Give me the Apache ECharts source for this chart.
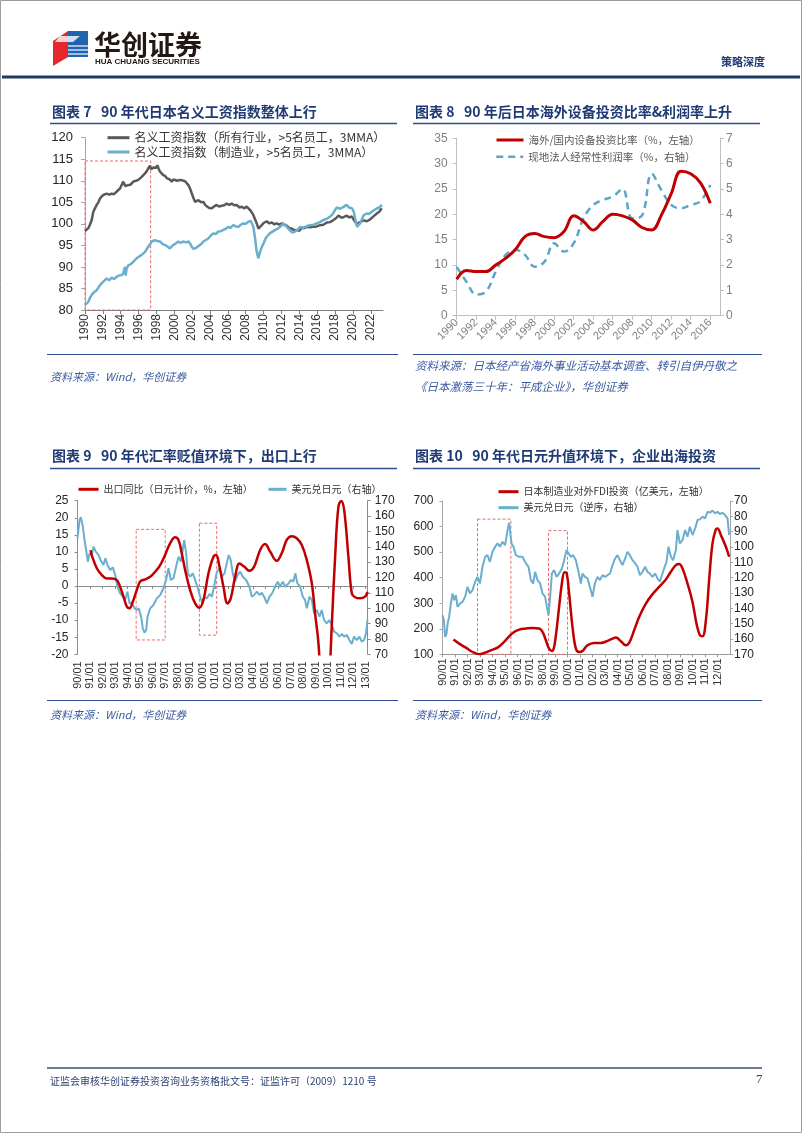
<!DOCTYPE html>
<html><head><meta charset="utf-8">
<script src="https://cdn.jsdelivr.net/npm/echarts@6/dist/echarts.min.js"></script>
<style>html,body{margin:0;padding:0;background:#fff}#c{width:802px;height:1133px}</style>
</head><body><div id="c"></div>
<script>
// ---------- Chart 7: nominal wage index (year, value) ----------
const wageAll = [[1990.0,98.3],[1990.2,98.6],[1990.37,99.0],[1990.55,99.8],[1990.75,100.9],[1990.93,102.8],[1991.1,103.2],[1991.31,104.4],[1991.5,105.0],[1991.68,105.9],[1991.85,106.3],[1992.05,106.7],[1992.25,106.4],[1992.43,107.0],[1992.7,106.8],[1992.99,107.0],[1993.25,106.9],[1993.55,107.5],[1993.75,107.9],[1993.92,108.2],[1994.1,108.4],[1994.29,109.8],[1994.4,110.2],[1994.5,108.8],[1994.6,108.6],[1994.85,109.0],[1995.1,109.1],[1995.41,109.8],[1995.7,110.0],[1995.97,110.2],[1996.15,110.4],[1996.35,110.9],[1996.55,111.2],[1996.72,111.7],[1996.9,112.2],[1997.09,112.9],[1997.28,113.5],[1997.4,112.7],[1997.5,112.5],[1997.7,113.1],[1997.84,113.3],[1998.0,113.0],[1998.1,113.6],[1998.25,112.8],[1998.4,112.1],[1998.6,111.8],[1998.77,111.3],[1999.0,111.1],[1999.15,110.6],[1999.33,110.5],[1999.5,110.3],[1999.71,109.8],[1999.9,110.3],[2000.08,110.5],[2000.35,110.0],[2000.64,110.2],[2000.9,110.1],[2001.2,109.9],[2001.4,109.6],[2001.58,109.0],[2001.8,108.0],[2001.95,107.1],[2002.15,106.0],[2002.32,105.1],[2002.5,105.0],[2002.7,105.5],[2003.0,105.0],[2003.26,105.1],[2003.45,104.4],[2003.63,104.0],[2003.9,103.7],[2004.19,103.6],[2004.5,104.1],[2004.75,104.4],[2005.0,104.0],[2005.31,104.2],[2005.6,104.3],[2005.87,104.7],[2006.15,104.4],[2006.43,104.7],[2006.7,104.3],[2006.99,104.4],[2007.3,103.8],[2007.55,104.0],[2007.8,103.6],[2008.11,104.0],[2008.3,103.7],[2008.49,103.2],[2008.7,102.6],[2008.86,102.0],[2009.05,101.0],[2009.23,100.1],[2009.42,98.9],[2009.6,99.3],[2009.79,99.7],[2010.0,100.2],[2010.2,100.0],[2010.35,100.6],[2010.6,100.1],[2010.91,100.3],[2011.2,99.9],[2011.47,100.1],[2011.75,99.8],[2012.03,100.1],[2012.3,99.8],[2012.59,99.6],[2012.9,99.0],[2013.15,98.9],[2013.45,98.5],[2013.71,98.6],[2014.0,98.4],[2014.27,99.1],[2014.55,99.0],[2014.83,99.3],[2015.2,99.2],[2015.58,99.3],[2015.95,99.4],[2016.33,99.7],[2016.7,99.8],[2017.07,100.3],[2017.45,100.4],[2017.82,100.9],[2018.1,101.3],[2018.38,101.9],[2018.55,101.5],[2018.75,101.4],[2019.0,101.6],[2019.31,101.9],[2019.6,101.5],[2019.87,101.7],[2020.05,101.4],[2020.25,100.5],[2020.45,100.0],[2020.62,100.1],[2020.8,100.4],[2020.99,100.6],[2021.2,100.8],[2021.37,100.9],[2021.55,100.6],[2021.74,100.5],[2021.9,101.0],[2022.11,101.4],[2022.4,101.9],[2022.67,102.4],[2022.95,102.8],[2023.23,103.6]];
const wageMfg = [[1990.0,81.2],[1990.2,81.5],[1990.37,81.9],[1990.55,82.8],[1990.75,83.5],[1991.0,84.1],[1991.31,84.6],[1991.5,85.2],[1991.68,85.8],[1991.85,86.2],[1992.05,86.6],[1992.25,86.9],[1992.43,87.3],[1992.7,86.9],[1992.99,87.5],[1993.25,87.2],[1993.55,87.7],[1993.8,88.0],[1994.1,88.1],[1994.3,88.6],[1994.48,90.0],[1994.55,88.0],[1994.65,89.5],[1994.85,90.4],[1995.1,90.6],[1995.41,91.2],[1995.6,91.6],[1995.78,92.0],[1996.0,92.3],[1996.35,92.8],[1996.55,93.1],[1996.72,93.5],[1996.9,94.1],[1997.09,94.7],[1997.3,95.3],[1997.47,95.9],[1997.6,95.5],[1997.84,96.2],[1998.1,96.0],[1998.4,95.9],[1998.7,95.3],[1998.95,95.1],[1999.2,94.8],[1999.5,94.3],[1999.7,94.6],[1999.9,95.1],[2000.2,95.5],[2000.45,95.9],[2000.7,95.6],[2001.0,95.9],[2001.3,95.7],[2001.6,95.9],[2001.8,95.3],[2001.95,94.7],[2002.15,94.2],[2002.32,93.9],[2002.5,94.5],[2002.7,94.7],[2003.0,95.3],[2003.26,95.9],[2003.5,96.2],[2003.8,96.6],[2004.1,97.3],[2004.4,97.8],[2004.65,97.6],[2004.9,98.2],[2005.2,98.3],[2005.5,98.6],[2005.8,98.9],[2006.05,99.3],[2006.3,99.1],[2006.6,99.7],[2006.9,99.4],[2007.2,99.3],[2007.45,99.8],[2007.7,100.1],[2008.0,100.0],[2008.3,100.5],[2008.55,100.7],[2008.7,100.9],[2008.85,99.3],[2009.05,96.6],[2009.2,93.9],[2009.35,92.5],[2009.42,92.0],[2009.6,93.5],[2009.8,94.6],[2010.0,95.5],[2010.2,96.5],[2010.35,97.0],[2010.55,97.3],[2010.7,97.8],[2011.0,98.2],[2011.3,98.6],[2011.6,98.9],[2011.85,99.3],[2012.05,99.7],[2012.2,100.1],[2012.4,99.7],[2012.6,99.3],[2012.8,98.8],[2012.95,98.6],[2013.2,98.0],[2013.5,98.2],[2013.8,98.6],[2014.1,99.3],[2014.4,99.1],[2014.65,99.3],[2014.9,99.5],[2015.2,99.7],[2015.6,99.8],[2015.95,100.1],[2016.3,100.4],[2016.7,100.9],[2017.1,101.2],[2017.45,101.7],[2017.75,102.3],[2018.0,103.2],[2018.2,103.8],[2018.4,104.0],[2018.55,103.5],[2018.75,103.7],[2019.0,104.0],[2019.3,104.4],[2019.55,103.8],[2019.9,103.6],[2020.1,102.8],[2020.25,101.3],[2020.45,99.3],[2020.6,99.0],[2020.8,100.1],[2021.0,101.0],[2021.2,102.0],[2021.4,102.3],[2021.55,102.4],[2021.8,102.3],[2022.1,102.8],[2022.4,103.2],[2022.7,103.6],[2022.95,103.8],[2023.25,104.4]];

// ---------- Chart 8: overseas capex ratio & profit margin ----------
const c8Years = [1990,1991,1992,1993,1994,1995,1996,1997,1998,1999,2000,2001,2002,2003,2004,2005,2006,2007,2008,2009,2010,2011,2012,2013,2014,2015,2016];
const c8Ratio = [7.2,8.9,8.7,8.7,10.0,11.3,13.0,15.6,16.2,15.6,15.4,16.6,19.7,18.6,16.9,18.6,20.0,19.7,18.9,17.4,16.9,19.9,24.1,28.5,28.0,26.2,22.2];
const c8Profit = [1.93,1.34,0.84,0.95,1.74,2.39,2.6,2.4,1.93,2.13,2.86,2.53,2.86,3.84,4.37,4.57,4.7,5.0,3.84,3.95,5.6,4.95,4.37,4.24,4.37,4.52,5.16];

// ---------- Chart 9: export yoy & USDJPY ----------
const c9Export = [[1991.05,10.5],[1991.14,9.0],[1991.54,5.2],[1991.94,3.2],[1992.34,2.2],[1992.74,2.2],[1993.14,1.75],[1993.4,-0.2],[1993.67,-3.1],[1993.94,-6.05],[1994.15,-6.5],[1994.41,-4.6],[1994.73,-1.2],[1995.0,1.3],[1995.4,1.95],[1995.8,2.7],[1996.2,4.2],[1996.6,6.15],[1996.99,9.1],[1997.39,12.5],[1997.79,14.3],[1998.06,13.5],[1998.32,9.6],[1998.59,4.7],[1998.99,-1.2],[1999.39,-5.1],[1999.73,-6.35],[2000.05,-4.1],[2000.45,3.7],[2000.85,8.6],[2001.06,9.1],[2001.33,5.7],[2001.65,-0.2],[2001.97,-5.1],[2002.23,-3.6],[2002.58,2.7],[2002.93,6.6],[2003.3,5.7],[2003.72,4.5],[2004.1,5.7],[2004.57,10.5],[2004.97,12.3],[2005.37,10.1],[2005.9,7.4],[2006.3,9.6],[2006.7,13.5],[2007.1,14.6],[2007.5,14.0],[2007.9,12.0],[2008.3,7.6],[2008.7,0.8],[2008.96,-8.0],[2009.23,-16.8],[2009.5,-32],[2009.78,-38],[2010.05,-30],[2010.29,-11.9],[2010.56,8.6],[2010.82,23.2],[2011.04,24.9],[2011.28,22.3],[2011.62,8.6],[2011.89,-2.1],[2012.15,-3.3],[2012.55,-3.6],[2012.95,-3.1],[2013.14,-1.7]];
const c9Usdjpy = [[1990.0,145.5],[1990.16,157.4],[1990.27,159.2],[1990.43,153],[1990.56,144.4],[1990.69,137.9],[1990.82,130.3],[1990.96,135.7],[1991.14,134.6],[1991.28,140.1],[1991.46,136.8],[1991.68,134.6],[1991.86,131],[1992.07,128.1],[1992.23,132.5],[1992.39,128.1],[1992.61,124.9],[1992.82,126.6],[1993.01,121.6],[1993.19,114],[1993.4,109.7],[1993.62,107.5],[1993.8,105.4],[1993.99,110.8],[1994.15,103.2],[1994.34,103.6],[1994.55,99.9],[1994.73,98.8],[1994.89,99.9],[1995.08,94.5],[1995.21,86.9],[1995.35,84.1],[1995.48,85.8],[1995.59,94.5],[1995.8,99.9],[1996.06,102.1],[1996.33,106.4],[1996.6,108.6],[1996.86,113],[1997.07,118.4],[1997.26,126],[1997.45,118.4],[1997.66,119.5],[1997.87,127],[1998.06,133.6],[1998.24,130.3],[1998.4,137.9],[1998.51,144.4],[1998.67,135.7],[1998.8,122.7],[1998.99,120.5],[1999.2,122.7],[1999.39,118.4],[1999.57,114],[1999.79,107.5],[1999.97,103.2],[2000.13,107.5],[2000.32,106.4],[2000.53,109.3],[2000.72,107.5],[2000.9,114],[2001.12,123.8],[2001.33,126],[2001.52,120.5],[2001.73,122.7],[2001.91,129.2],[2002.07,134.6],[2002.23,131.4],[2002.39,122.7],[2002.58,117.3],[2002.77,121.6],[2002.98,123.8],[2003.19,120.5],[2003.46,118.4],[2003.72,114],[2003.91,107.5],[2004.1,108.6],[2004.31,110.8],[2004.52,108.6],[2004.71,110.1],[2004.89,107.5],[2005.11,103.2],[2005.32,107.5],[2005.53,109.7],[2005.77,114],[2005.98,117.3],[2006.17,114],[2006.38,117.3],[2006.6,114],[2006.84,116.2],[2007.05,118.4],[2007.23,117.3],[2007.39,122.7],[2007.55,116.2],[2007.77,114],[2007.98,107.5],[2008.16,105.4],[2008.3,99.9],[2008.51,107.5],[2008.7,105.4],[2008.88,96.7],[2009.1,98.8],[2009.31,94.5],[2009.49,98.8],[2009.68,92.3],[2009.89,90.2],[2010.11,92.3],[2010.29,89.1],[2010.48,84.8],[2010.69,83.7],[2010.9,81.5],[2011.09,83.2],[2011.28,81.5],[2011.49,82.6],[2011.7,79.3],[2011.89,76.7],[2012.07,81.5],[2012.29,79.3],[2012.5,81.5],[2012.69,78.2],[2012.87,79.3],[2013.03,83.7],[2013.14,92.3]];
const c9Boxes = [[1994.68,16.6,1997.0,-15.8],[1999.73,18.4,2001.11,-14.4]];

// ---------- Chart 10: manufacturing FDI & USDJPY (inverse) ----------
const c10Fdi = [[1990.88,157.5],[1991.33,141.8],[1991.87,126],[1992.4,109],[1992.93,100.5],[1993.33,105],[1993.87,115.7],[1994.4,126],[1994.93,148.4],[1995.33,170.6],[1995.73,187.6],[1996.13,196.7],[1996.67,200.7],[1997.2,203.3],[1997.73,200.7],[1998.0,187.6],[1998.27,155],[1998.53,122],[1998.75,113],[1998.93,128.8],[1999.12,194],[1999.33,285.6],[1999.55,377],[1999.76,421.6],[1999.92,419],[2000.13,338],[2000.4,207.2],[2000.67,122],[2000.93,109],[2001.2,113],[2001.6,135.3],[2002.13,144.4],[2002.67,144.4],[2003.2,152.3],[2003.6,161.4],[2003.87,165.4],[2004.27,151],[2004.67,135.3],[2004.93,144.4],[2005.33,194],[2005.73,246.4],[2006.27,298.7],[2006.8,335.3],[2007.33,364.1],[2007.87,392.8],[2008.27,423],[2008.67,449],[2008.93,453],[2009.2,436],[2009.6,377],[2010.0,305],[2010.32,220],[2010.59,174.5],[2010.8,170.6],[2011.07,233],[2011.33,390],[2011.6,534],[2011.87,590],[2012.0,592.8],[2012.27,566.7],[2012.67,521],[2012.93,481.7]];
const c10Usdjpy = [[1990.0,144.5],[1990.11,147.8],[1990.21,158.7],[1990.32,156.5],[1990.43,148.9],[1990.53,145.6],[1990.67,136.9],[1990.8,130.3],[1990.93,134.7],[1991.07,131.4],[1991.2,139.1],[1991.39,136.9],[1991.6,135.8],[1991.81,132.5],[1992.0,126],[1992.19,130.3],[1992.4,128.2],[1992.61,122.7],[1992.8,119.5],[1992.99,123.8],[1993.2,112.9],[1993.41,106.4],[1993.6,105.3],[1993.79,109.7],[1994.0,103.1],[1994.21,99.8],[1994.4,97.7],[1994.59,99.8],[1994.8,96.6],[1995.01,98.8],[1995.2,89],[1995.33,84.2],[1995.41,84.6],[1995.52,97.7],[1995.68,99.8],[1995.87,105.3],[1996.13,106.4],[1996.4,106.4],[1996.67,110.7],[1996.88,112.9],[1997.07,121.6],[1997.25,123.8],[1997.41,116.2],[1997.6,121.6],[1997.81,123.8],[1998.0,130.3],[1998.21,132.5],[1998.35,139.1],[1998.48,144.5],[1998.59,134.7],[1998.75,117.3],[1998.93,115.1],[1999.12,119.5],[1999.33,117.3],[1999.55,114],[1999.73,108.6],[1999.92,102],[2000.08,104.2],[2000.27,106.4],[2000.45,105.3],[2000.67,108.6],[2000.88,116.2],[2001.07,123.8],[2001.2,117.3],[2001.39,119.5],[2001.6,120.5],[2001.79,126],[2002.0,132.5],[2002.19,123.8],[2002.4,119.5],[2002.59,121.6],[2002.8,118.4],[2003.01,119.5],[2003.2,118.4],[2003.41,117.3],[2003.6,111.8],[2003.81,107.5],[2004.0,105.3],[2004.19,108.6],[2004.4,111.8],[2004.61,107.5],[2004.8,103.1],[2004.99,105.3],[2005.2,108.6],[2005.41,110.7],[2005.6,112.9],[2005.79,118.4],[2006.0,116.2],[2006.21,112.9],[2006.4,116.2],[2006.59,117.3],[2006.8,119.5],[2007.01,117.3],[2007.2,120.5],[2007.39,122.7],[2007.55,118.4],[2007.73,114],[2007.92,109.7],[2008.08,99.8],[2008.27,106.4],[2008.45,108.6],[2008.67,102],[2008.8,89],[2008.99,97.7],[2009.2,95.5],[2009.41,89],[2009.6,93.3],[2009.79,86.8],[2010.0,92.2],[2010.21,87.9],[2010.4,82.4],[2010.59,82],[2010.8,80.2],[2011.01,81.3],[2011.2,77],[2011.39,77.6],[2011.6,76.3],[2011.81,78.1],[2012.0,77],[2012.19,78.5],[2012.4,77.6],[2012.61,79.2],[2012.8,81.3],[2012.93,92.2]];
const c10Boxes = [[1992.8,629,1995.47,100],[1998.48,584,2000.0,100]];
const c7Box = [1990,114.6,1997.35,80];

// ---------- texts ----------
const T = {
  t7:'图表 7   90 年代日本名义工资指数整体上行',
  t8:'图表 8   90 年后日本海外设备投资比率&利润率上升',
  t9:'图表 9   90 年代汇率贬值环境下，出口上行',
  t10:'图表 10   90 年代日元升值环境下，企业出海投资',
  s7:'资料来源：Wind，华创证券',
  s8a:'资料来源：日本经产省海外事业活动基本调查、转引自伊丹敬之',
  s8b:'《日本激荡三十年：平成企业》，华创证券',
  foot:'证监会审核华创证券投资咨询业务资格批文号：证监许可（2009）1210 号'
};
const names = {
  a:'名义工资指数（所有行业，>5名员工，3MMA）', b:'名义工资指数（制造业，>5名员工，3MMA）',
  c:'海外/国内设备投资比率（%，左轴）', d:'现地法人经常性利润率（%，右轴）',
  e:'出口同比（日元计价，%，左轴）', f:'美元兑日元（右轴）',
  g:'日本制造业对外FDI投资（亿美元，左轴）', h:'美元兑日元（逆序，右轴）'
};

const SANS = '"Liberation Sans", Arial, "Noto Sans CJK SC", sans-serif';
const CJK = '"Noto Sans CJK SC", sans-serif';
const NAVY = '#1F3A75';
const RED = '#C00000';
const BLUE = '#6AAFCD';

function isInt(v){ return Math.abs(v - Math.round(v)) < 1e-6; }
function txt(x, y, text, size, color, extra){
  return {type:'text', x:x, y:y, silent:true, z:10,
    style:Object.assign({text:text, fontSize:size, fontFamily:CJK, fill:color,
      textAlign:'left', textVerticalAlign:'middle', align:'left', verticalAlign:'middle'}, extra||{})};
}
function hline(x1, x2, y, color, w){
  return {type:'line', silent:true, shape:{x1:x1, y1:y, x2:x2, y2:y}, style:{stroke:color, lineWidth:w}};
}
function boxArea(b){ return [[{coord:[b[0],b[1]]},{coord:[b[2],b[3]]}]]; }
const boxStyle = {color:'rgba(0,0,0,0)', borderColor:'#EE6B6B', borderWidth:1, borderType:[3,2]};

function legendItem(name, left, top, w, size, color, lw){
  return {data:[name], left:left, top:top, padding:0, itemWidth:w, itemHeight:14, itemGap:0,
    selectedMode:false, lineStyle:{width:lw}, itemStyle:{opacity:0},
    textStyle:{fontSize:size, lineHeight:14, color:color, fontFamily:CJK, padding:[0,0,0,0]}};
}

const graphics = [
  {type:'rect', silent:true, shape:{x:0.5, y:0.5, width:801, height:1132}, style:{fill:'none', stroke:'#9c9c9c', lineWidth:1}},
  // logo
  {type:'polygon', silent:true, shape:{points:[[53,41],[68,31],[68,57],[53,66]]}, style:{fill:'#E5262B'}},
  {type:'polygon', silent:true, shape:{points:[[68,31],[88,31],[88,57],[68,57]]}, style:{fill:'#1E64AE'}},
  {type:'polygon', silent:true, shape:{points:[[60,36],[80,36],[73,42],[55,42]]}, style:{fill:'#ffffff', opacity:0.8}},
  {type:'line', silent:true, shape:{x1:68,y1:46,x2:88,y2:46}, style:{stroke:'#fff', lineWidth:1.2}},
  {type:'line', silent:true, shape:{x1:68,y1:50,x2:88,y2:50}, style:{stroke:'#fff', lineWidth:1.2}},
  {type:'line', silent:true, shape:{x1:68,y1:54,x2:88,y2:54}, style:{stroke:'#fff', lineWidth:1.2}},
  txt(94, 45, '华创证券', 27, '#231815', {fontWeight:'bold'}),
  txt(95, 62, 'HUA CHUANG SECURITIES', 8, '#231815', {fontWeight:'bold', fontFamily:SANS}),
  txt(721, 62, '策略深度', 11, NAVY, {fontWeight:'bold'}),
  hline(2, 800, 77, '#1F3864', 3),
  // row 1 titles
  txt(52, 112, T.t7, 14, NAVY, {fontWeight:'bold'}),
  hline(50, 397, 123.5, '#2E4E8F', 1.5),
  txt(415, 112, T.t8, 14, NAVY, {fontWeight:'bold'}),
  hline(413, 760, 123.5, '#2E4E8F', 1.5),
  hline(47, 398, 354.5, '#2E4E8F', 1.2),
  hline(413, 762, 354.5, '#2E4E8F', 1.2),
  txt(50, 377, T.s7, 11, '#3A5BA0', {fontStyle:'italic'}),
  txt(415, 366, T.s8a, 11.5, '#3A5BA0', {fontStyle:'italic'}),
  txt(415, 387, T.s8b, 11.5, '#3A5BA0', {fontStyle:'italic'}),
  // row 2 titles
  txt(52, 456, T.t9, 14, NAVY, {fontWeight:'bold'}),
  hline(50, 397, 468.5, '#2E4E8F', 1.5),
  txt(415, 456, T.t10, 14, NAVY, {fontWeight:'bold'}),
  hline(413, 760, 468.5, '#2E4E8F', 1.5),
  hline(47, 398, 700.5, '#2E4E8F', 1.2),
  hline(413, 762, 700.5, '#2E4E8F', 1.2),
  txt(50, 715, T.s7, 11, '#3A5BA0', {fontStyle:'italic'}),
  txt(415, 715, T.s7, 11, '#3A5BA0', {fontStyle:'italic'}),
  // footer
  hline(47, 762, 1068, '#3A4F6E', 1.5),
  txt(50, 1081, T.foot, 10, '#2E4374'),
  txt(756, 1080, '7', 13, '#2E4374', {fontFamily:'"Liberation Serif", serif'})
];

const axLine = c => ({show:true, lineStyle:{color:c, width:1}});
const yrFmt = v => (isInt(v) && Math.round(v) % 2 === 0) ? String(Math.round(v)) : '';
const ymFmt = v => isInt(v) ? (String(Math.round(v) % 100).padStart(2,'0') + '/01') : '';

const option = {
  animation:false,
  backgroundColor:'#ffffff',
  grid:[
    {left:85, top:137.7, width:298, height:172.3},
    {left:456.7, top:138.3, width:263.3, height:177.4},
    {left:77.5, top:500.7, width:290.2, height:153.6},
    {left:442.5, top:501, width:287.5, height:153.3}
  ],
  xAxis:[
    {gridIndex:0, type:'value', min:1990, max:2023.37, interval:2, axisLine:axLine('#7f7f7f'),
      axisTick:{show:true, length:4, lineStyle:{color:'#7f7f7f'}}, splitLine:{show:false},
      axisLabel:{rotate:90, margin:4, fontSize:12, color:'#333', fontFamily:SANS, formatter:yrFmt, showMaxLabel:false}},
    {gridIndex:1, type:'value', min:1990, max:2017, interval:2, axisLine:axLine('#bfbfbf'),
      axisTick:{show:true, length:4, lineStyle:{color:'#bfbfbf'}}, splitLine:{show:false},
      axisLabel:{rotate:45, margin:5, fontSize:11, color:'#7f7f7f', fontFamily:SANS, formatter:yrFmt, showMaxLabel:false}},
    {gridIndex:2, type:'value', min:1990, max:2013.16, interval:1, axisLine:{show:true, onZero:true, lineStyle:{color:'#8c8c8c'}},
      axisTick:{show:true, length:3, lineStyle:{color:'#8c8c8c'}}, splitLine:{show:false}, axisLabel:{show:false}},
    {gridIndex:2, type:'value', position:'bottom', min:1990, max:2013.16, interval:1, axisLine:{show:false, onZero:false},
      axisTick:{show:false}, splitLine:{show:false},
      axisLabel:{rotate:90, margin:7, fontSize:11, color:'#333', fontFamily:SANS, formatter:ymFmt, showMaxLabel:false}},
    {gridIndex:3, type:'value', min:1990, max:2013.0, interval:1, axisLine:axLine('#999999'),
      axisTick:{show:true, length:3, lineStyle:{color:'#999'}}, splitLine:{show:false},
      axisLabel:{rotate:90, margin:4, fontSize:11, color:'#333', fontFamily:SANS, formatter:ymFmt, showMaxLabel:false}}
  ],
  yAxis:[
    {gridIndex:0, type:'value', min:80, max:120, interval:5, axisLine:axLine('#a6a6a6'),
      axisTick:{show:true, length:4, lineStyle:{color:'#a6a6a6'}}, splitLine:{show:false},
      axisLabel:{margin:12, fontSize:13, color:'#262626', fontFamily:SANS}},
    {gridIndex:1, type:'value', min:0, max:35, interval:5, axisLine:axLine('#bfbfbf'),
      axisTick:{show:true, length:4, lineStyle:{color:'#bfbfbf'}}, splitLine:{show:false},
      axisLabel:{margin:9, fontSize:12, color:'#7f7f7f', fontFamily:SANS}},
    {gridIndex:1, type:'value', position:'right', min:0, max:7, interval:1, axisLine:axLine('#bfbfbf'),
      axisTick:{show:true, length:4, lineStyle:{color:'#bfbfbf'}}, splitLine:{show:false},
      axisLabel:{margin:6, fontSize:12, color:'#7f7f7f', fontFamily:SANS}},
    {gridIndex:2, type:'value', min:-20, max:25, interval:5, axisLine:axLine('#8c8c8c'),
      axisTick:{show:true, length:3, lineStyle:{color:'#8c8c8c'}}, splitLine:{show:false},
      axisLabel:{margin:9, fontSize:12, color:'#262626', fontFamily:SANS}},
    {gridIndex:2, type:'value', position:'right', min:70, max:170, interval:10, axisLine:axLine('#8c8c8c'),
      axisTick:{show:true, length:3, lineStyle:{color:'#8c8c8c'}}, splitLine:{show:false},
      axisLabel:{margin:7, fontSize:12, color:'#262626', fontFamily:SANS}},
    {gridIndex:3, type:'value', min:100, max:700, interval:100, axisLine:axLine('#a6a6a6'),
      axisTick:{show:true, length:3, lineStyle:{color:'#a6a6a6'}}, splitLine:{show:false},
      axisLabel:{margin:9, fontSize:12, color:'#262626', fontFamily:SANS}},
    {gridIndex:3, type:'value', position:'right', inverse:true, min:70, max:170, interval:10, axisLine:axLine('#a6a6a6'),
      axisTick:{show:true, length:3, lineStyle:{color:'#a6a6a6'}}, splitLine:{show:false},
      axisLabel:{margin:4, fontSize:12, color:'#262626', fontFamily:SANS}}
  ],
  legend:[
    legendItem(names.a, 106, 130.7, 22, 12, '#333', 3),
    legendItem(names.b, 106, 145, 22, 12, '#333', 3),
    legendItem(names.c, 495, 133, 27, 10.5, '#595959', 3),
    legendItem(names.d, 495, 149.7, 27, 10.5, '#595959', 2.5),
    legendItem(names.e, 77, 482.3, 20, 10, '#333', 3),
    legendItem(names.f, 267, 482.3, 18, 10, '#333', 3),
    legendItem(names.g, 497, 484.7, 20, 10, '#333', 3),
    legendItem(names.h, 497, 500.7, 20, 10, '#333', 3)
  ],
  graphic:graphics,
  series:[
    {name:names.a, type:'line', xAxisIndex:0, yAxisIndex:0, data:wageAll, symbol:'none',
      lineStyle:{color:'#595959', width:2.5}, itemStyle:{color:'#595959'}, z:3,
      markArea:{silent:true, label:{show:false}, itemStyle:boxStyle, data:boxArea(c7Box)}},
    {name:names.b, type:'line', xAxisIndex:0, yAxisIndex:0, data:wageMfg, symbol:'none',
      lineStyle:{color:BLUE, width:2.5}, itemStyle:{color:BLUE}, z:4},
    {name:names.c, type:'line', xAxisIndex:1, yAxisIndex:1, data:c8Years.map((y,i)=>[y,c8Ratio[i]]), symbol:'none', smooth:0.4,
      lineStyle:{color:RED, width:3}, itemStyle:{color:RED}, z:4},
    {name:names.d, type:'line', xAxisIndex:1, yAxisIndex:2, data:c8Years.map((y,i)=>[y,c8Profit[i]]), symbol:'none', smooth:0.4,
      lineStyle:{color:'#5BA5C8', width:2.5, type:[7,5]}, itemStyle:{color:'#5BA5C8'}, z:3},
    {name:names.e, type:'line', xAxisIndex:2, yAxisIndex:3, data:c9Export, symbol:'none', smooth:0.4,
      lineStyle:{color:RED, width:2.5}, itemStyle:{color:RED}, z:4,
      markArea:{silent:true, label:{show:false}, itemStyle:boxStyle, data:c9Boxes.map(b=>boxArea(b)[0])}},
    {name:names.f, type:'line', xAxisIndex:2, yAxisIndex:4, data:c9Usdjpy, symbol:'none',
      lineStyle:{color:BLUE, width:2}, itemStyle:{color:BLUE}, z:3},
    {name:names.g, type:'line', xAxisIndex:4, yAxisIndex:5, data:c10Fdi, symbol:'none', smooth:0.4,
      lineStyle:{color:RED, width:2.5}, itemStyle:{color:RED}, z:4,
      markArea:{silent:true, label:{show:false}, itemStyle:boxStyle, data:c10Boxes.map(b=>boxArea(b)[0])}},
    {name:names.h, type:'line', xAxisIndex:4, yAxisIndex:6, data:c10Usdjpy, symbol:'none',
      lineStyle:{color:BLUE, width:2}, itemStyle:{color:BLUE}, z:3}
  ]
};

const chart = echarts.init(document.getElementById('c'), null, {renderer:'canvas'});
chart.setOption(option);
</script></body></html>
